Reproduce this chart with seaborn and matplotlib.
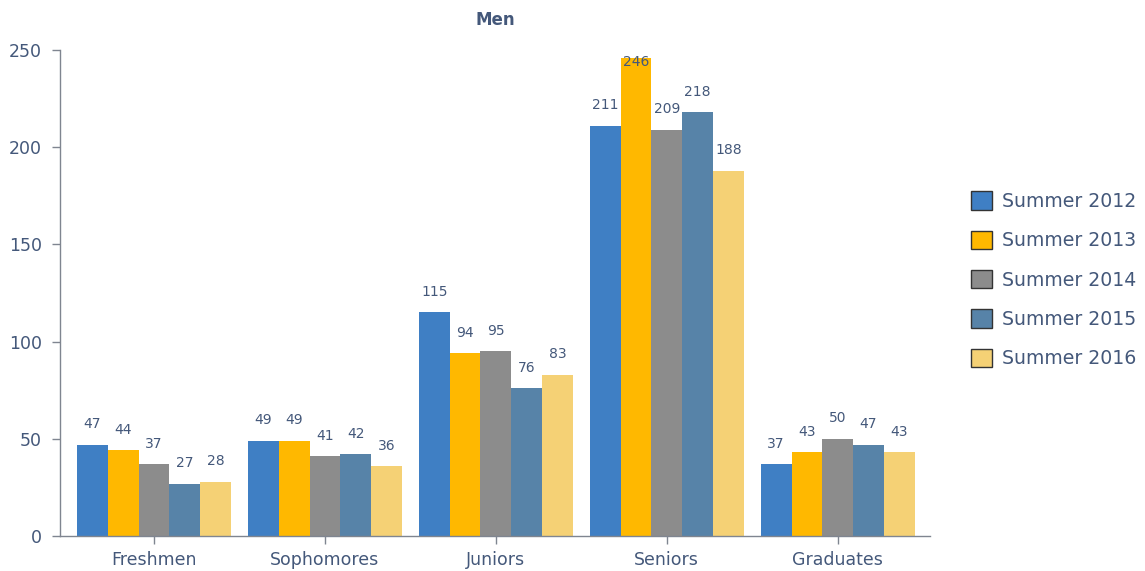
import matplotlib
matplotlib.use("Agg")
import matplotlib.pyplot as plt
import seaborn as sns
import pandas as pd

categories = ["Freshmen", "Sophomores", "Juniors", "Seniors", "Graduates"]
series_names = ["Summer 2012", "Summer 2013", "Summer 2014", "Summer 2015", "Summer 2016"]
s2012 = [47, 49, 115, 211, 37]
s2013 = [44, 49, 94, 246, 43]
s2014 = [37, 41, 95, 209, 50]
s2015 = [27, 42, 76, 218, 47]
s2016 = [28, 36, 83, 188, 43]
series_values = [s2012, s2013, s2014, s2015, s2016]
colors = ["#3F7FC4", "#FFB800", "#8C8C8C", "#5783A8", "#F5D175"]

rows = []
for name, vals in zip(series_names, series_values):
    for c, v in zip(categories, vals):
        rows.append({"category": c, "series": name, "value": v})
df = pd.DataFrame(rows)

sns.set_style("white")
plt.rcParams['font.family'] = ['DejaVu Sans']
text_color = "#44587A"
axis_color = "#7F8590"

fig = plt.figure(figsize=(11.45, 5.71), dpi=100)
ax = fig.add_axes([60/1145, 35/571, 870/1145, 486/571])

sns.barplot(data=df, x="category", y="value", hue="series", order=categories,
            hue_order=series_names, palette=colors, width=0.9, saturation=1,
            ax=ax, legend=True, errorbar=None, linewidth=0)

for container, vals in zip(ax.containers, series_values):
    for bar, v in zip(container, vals):
        cx = bar.get_x() + bar.get_width() / 2
        ax.text(cx, min(v + 10.5, 243.8), str(v), ha="center", va="center",
                fontsize=10, color=text_color)

ax.set_ylim(0, 250)
ax.set_xlim(-0.55, 4.54)
ax.set_yticks([0, 50, 100, 150, 200, 250])
ax.set_xlabel("")
ax.set_ylabel("")
for s in ["top", "right"]:
    ax.spines[s].set_visible(False)
for s in ["left", "bottom"]:
    ax.spines[s].set_color(axis_color)
    ax.spines[s].set_linewidth(1)
ax.tick_params(axis="both", colors=axis_color, labelcolor=text_color, labelsize=12.5,
               length=6, width=1, direction="out", left=True, bottom=True)
ax.tick_params(axis="y", pad=7)
ax.tick_params(axis="x", pad=5)

ax.set_title("Men", fontsize=12, fontweight="bold", color=text_color, pad=18)

handles, labels = ax.get_legend_handles_labels()
for h in handles:
    h.set_edgecolor("#333333")
    h.set_linewidth(1)
ax.legend(handles, labels, loc="center left", bbox_to_anchor=(1.047, 0.527),
          frameon=False, fontsize=13.6, handlelength=1.1, handleheight=1.1,
          labelspacing=1.05, handletextpad=0.55, labelcolor=text_color,
          borderpad=0, borderaxespad=0)

fig.savefig("out.png", dpi=100)
